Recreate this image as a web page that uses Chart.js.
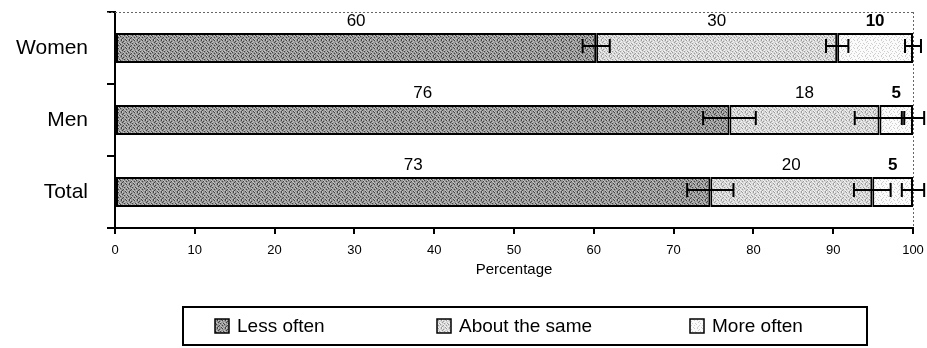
<!DOCTYPE html>
<html><head><meta charset="utf-8">
<script src="https://cdn.jsdelivr.net/npm/chart.js@4.4.1/dist/chart.umd.min.js"></script>
<style>html,body{margin:0;padding:0;background:#fff}#wrap{width:927px;height:348px}</style>
</head><body><div id="wrap"><canvas id="c" width="927" height="348"></canvas></div>
<script>
const categories = ['Women', 'Men', 'Total'];
const seriesNames = ['Less often', 'About the same', 'More often'];
const lessOften = [60.3, 77.0, 74.6];
const aboutSame = [30.2, 18.8, 20.3];
const moreOften = [9.5, 4.2, 5.1];
const lessLabels = ['60', '76', '73'];
const aboutLabels = ['30', '18', '20'];
const moreLabels = ['10', '5', '5'];
const lessErr = [1.7, 3.3, 2.9];
const aboutErr = [1.4, 3.1, 2.3];
const moreErr = [1.0, 1.4, 1.4];
const xTicks = [0, 10, 20, 30, 40, 50, 60, 70, 80, 90, 100];

const FONT = "'Liberation Sans', Arial, Helvetica, sans-serif";

function makePattern(base, dark, light, densD, densL) {
  const s = 8, cv = document.createElement('canvas');
  cv.width = s; cv.height = s;
  const g = cv.getContext('2d');
  g.fillStyle = base; g.fillRect(0, 0, s, s);
  const bm = [
    [0,3,1,0,2,0,3,1],[2,0,0,3,0,1,0,2],[1,2,3,0,1,0,2,0],[0,1,0,2,3,0,1,3],
    [3,0,2,1,0,2,0,1],[0,2,0,3,1,0,3,0],[1,0,3,0,2,1,0,2],[2,3,1,0,0,3,1,0]];
  for (let y = 0; y < s; y++) for (let x = 0; x < s; x++) {
    const v = bm[y][x];
    if (v === 3 && densD) { g.fillStyle = dark; g.fillRect(x, y, 1, 1); }
    if (v === 1 && densL) { g.fillStyle = light; g.fillRect(x, y, 1, 1); }
  }
  return g.createPattern(cv, 'repeat');
}
const fills = [
  makePattern('#979797', '#444444', '#c4c4c4', true, true),
  makePattern('#d6d6d6', '#9c9c9c', '#f4f4f4', true, true),
  makePattern('#fbfbfb', '#cfcfcf', '#ffffff', true, false)
];
const valueSets = [lessOften, aboutSame, moreOften];
const labelSets = [lessLabels, aboutLabels, moreLabels];
const errSets = [lessErr, aboutErr, moreErr];

const overlay = {
  id: 'overlay',
  afterDatasetsDraw(chart) {
    const c = chart.ctx, xs = chart.scales.x, ca = chart.chartArea;
    c.save();
    c.strokeStyle = '#666'; c.lineWidth = 1; c.setLineDash([2, 2]);
    c.beginPath();
    c.moveTo(ca.left - 8, ca.top + 0.5); c.lineTo(ca.right + 1, ca.top + 0.5);
    c.moveTo(ca.right + 0.5, ca.top); c.lineTo(ca.right + 0.5, ca.bottom);
    c.stroke(); c.setLineDash([]);
    c.strokeStyle = '#000'; c.lineWidth = 2;
    for (let j = 0; j < categories.length; j++) {
      let cum = 0;
      for (let i = 0; i < valueSets.length; i++) {
        cum += valueSets[i][j];
        const el = chart.getDatasetMeta(i).data[j];
        const y = el.y - 2;
        const x1 = xs.getPixelForValue(cum - errSets[i][j]);
        const x2 = xs.getPixelForValue(cum + errSets[i][j]);
        c.beginPath();
        c.moveTo(x1, y); c.lineTo(x2, y);
        c.moveTo(x1, y - 7); c.lineTo(x1, y + 7);
        c.moveTo(x2, y - 7); c.lineTo(x2, y + 7);
        c.stroke();
      }
    }
    c.fillStyle = '#000'; c.textAlign = 'center'; c.textBaseline = 'middle';
    for (let i = 0; i < valueSets.length; i++) {
      c.font = (i === 2 ? 'bold ' : '') + '17px ' + FONT;
      const meta = chart.getDatasetMeta(i);
      meta.data.forEach((el, j) => {
        const cx = (el.x + el.base) / 2;
        c.fillText(labelSets[i][j], cx, el.y - el.height / 2 - 12);
      });
    }
    c.restore();
  },
  afterDraw(chart) {
    const c = chart.ctx;
    c.save();
    const bx = 183, by = 307, bw = 684, bh = 38;
    c.strokeStyle = '#000'; c.lineWidth = 2;
    c.strokeRect(bx, by, bw, bh);
    const sq = [215, 437, 690];
    c.font = '19px ' + FONT; c.textBaseline = 'middle'; c.textAlign = 'left';
    chart.data.datasets.forEach((ds, i) => {
      c.fillStyle = ds.backgroundColor;
      c.fillRect(sq[i], by + 12, 14, 14);
      c.lineWidth = 1.5; c.strokeStyle = '#000';
      c.strokeRect(sq[i], by + 12, 14, 14);
      c.fillStyle = '#000';
      c.fillText(ds.label, sq[i] + 22, by + 20);
    });
    c.restore();
  }
};

function zeroPad(s) { s.paddingLeft = 0; s.paddingRight = 0; s.paddingTop = 0; s.paddingBottom = 0; }

new Chart(document.getElementById('c'), {
  type: 'bar',
  data: {
    labels: categories,
    datasets: seriesNames.map((n, i) => ({
      label: n,
      data: valueSets[i],
      backgroundColor: fills[i],
      borderColor: '#000',
      borderWidth: 2,
      borderSkipped: false,
      barPercentage: 0.42,
      categoryPercentage: 1
    }))
  },
  options: {
    indexAxis: 'y',
    responsive: false,
    animation: false,
    layout: { padding: { top: 12, right: 14, left: 0, bottom: 67 } },
    plugins: { legend: { display: false }, tooltip: { enabled: false } },
    scales: {
      x: {
        stacked: true, min: 0, max: 100,
        afterBuildTicks(s) { s.ticks = xTicks.map(v => ({ value: v })); },
        afterFit(s) { s.height = 53; zeroPad(s); },
        border: { display: true, color: '#000', width: 2 },
        grid: { drawOnChartArea: false, color: '#000', lineWidth: 2, tickLength: 6 },
        ticks: { color: '#000', font: { family: FONT, size: 13 }, padding: 9, maxRotation: 0 },
        title: { display: true, text: 'Percentage', color: '#000', font: { family: FONT, size: 15 }, padding: { top: 4, bottom: 2 } }
      },
      y: {
        stacked: true,
        afterFit(s) { s.width = 115; zeroPad(s); },
        border: { display: true, color: '#000', width: 2 },
        grid: { drawOnChartArea: false, offset: true, color: '#000', lineWidth: 2, tickLength: 8 },
        ticks: { color: '#000', font: { family: FONT, size: 21 }, padding: 19 }
      }
    }
  },
  plugins: [overlay]
});
</script></body></html>
